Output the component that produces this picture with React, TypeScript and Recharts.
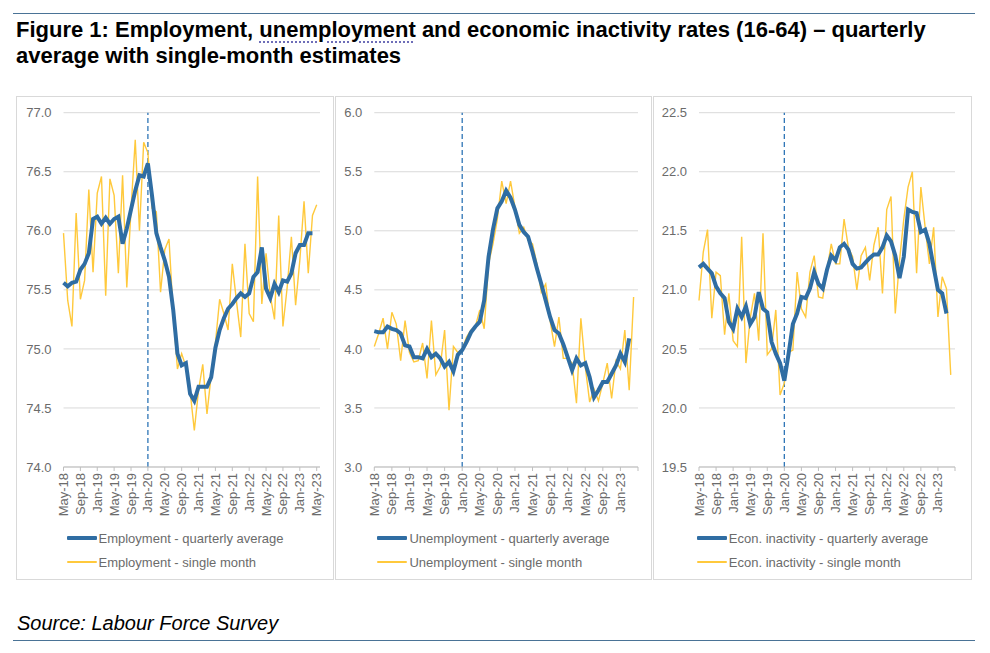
import { LineChart, Line, XAxis, YAxis, CartesianGrid, ReferenceLine } from "recharts";

const FONT = '"Liberation Sans", Arial, sans-serif';
const BLUE = "#2F6DA3";
const YELLOW = "#FFC93C";
const TEXT_GREY = "#6b6b6b";

// monthly categories, May-18 to May-23
const MONTHS = [
    "May-18", "Jun-18", "Jul-18", "Aug-18", "Sep-18", "Oct-18", "Nov-18", "Dec-18",
    "Jan-19", "Feb-19", "Mar-19", "Apr-19", "May-19", "Jun-19", "Jul-19", "Aug-19", "Sep-19", "Oct-19", "Nov-19", "Dec-19",
    "Jan-20", "Feb-20", "Mar-20", "Apr-20", "May-20", "Jun-20", "Jul-20", "Aug-20", "Sep-20", "Oct-20", "Nov-20", "Dec-20",
    "Jan-21", "Feb-21", "Mar-21", "Apr-21", "May-21", "Jun-21", "Jul-21", "Aug-21", "Sep-21", "Oct-21", "Nov-21", "Dec-21",
    "Jan-22", "Feb-22", "Mar-22", "Apr-22", "May-22", "Jun-22", "Jul-22", "Aug-22", "Sep-22", "Oct-22", "Nov-22", "Dec-22",
    "Jan-23", "Feb-23", "Mar-23", "Apr-23", "May-23",
];

const EMP_QUARTERLY = [
    75.56, 75.53, 75.56, 75.57, 75.67, 75.72, 75.81, 76.10, 76.12, 76.06,
    76.11, 76.06, 76.10, 76.12, 75.89, 76.02, 76.18, 76.34, 76.47, 76.46,
    76.57, 76.29, 75.98, 75.86, 75.75, 75.61, 75.33, 74.96, 74.86, 74.88,
    74.62, 74.56, 74.68, 74.68, 74.68, 74.76, 75.01, 75.16, 75.26, 75.34,
    75.38, 75.43, 75.47, 75.44, 75.47, 75.61, 75.65, 75.86, 75.51, 75.43,
    75.55, 75.48, 75.58, 75.57, 75.64, 75.81, 75.88, 75.88, 75.98, 75.98,
];
const EMP_SINGLE = [
    75.98, 75.41, 75.19, 76.15, 75.42, 75.58, 76.35, 75.65, 76.32, 76.46,
    75.45, 76.44, 76.30, 75.64, 76.47, 75.52, 76.18, 76.77, 76.00, 76.75,
    76.66, 76.19, 76.16, 75.48, 75.84, 75.93, 75.30, 74.83, 74.96, 74.85,
    74.64, 74.31, 74.65, 74.87, 74.45, 74.78, 75.05, 75.42, 75.30, 75.16,
    75.72, 75.40, 75.10, 75.89, 75.30, 75.23, 76.46, 75.38, 75.81, 75.45,
    75.25, 76.13, 75.19, 75.52, 75.95, 75.37, 75.75, 76.25, 75.64, 76.13,
    76.22,
];

const UNEMP_QUARTERLY = [
    4.15, 4.14, 4.14, 4.19, 4.17, 4.16, 4.13, 4.03, 4.02, 3.93,
    3.93, 3.92, 4.00, 3.93, 3.96, 3.92, 3.85, 3.89, 3.81, 3.95,
    3.99, 4.06, 4.14, 4.19, 4.23, 4.41, 4.78, 5.01, 5.19, 5.25,
    5.34, 5.28, 5.18, 5.05, 4.99, 4.95, 4.82, 4.68, 4.55, 4.41,
    4.27, 4.16, 4.13, 4.04, 3.93, 3.82, 3.92, 3.86, 3.88, 3.76,
    3.59, 3.65, 3.72, 3.72, 3.79, 3.86, 3.96, 3.89, 4.09,
];
const UNEMP_SINGLE = [
    4.02, 4.13, 4.26, 4.00, 4.31, 4.21, 3.90, 4.24, 3.97, 3.89,
    3.90, 4.05, 3.75, 4.24, 3.78, 3.85, 4.16, 3.48, 4.02, 3.97,
    4.00, 4.10, 4.16, 4.19, 4.33, 4.17, 4.72, 4.89, 5.10, 5.42,
    5.23, 5.42, 5.20, 4.98, 5.03, 4.92, 4.89, 4.72, 4.48, 4.55,
    4.24, 4.02, 4.27, 3.92, 3.92, 3.88, 3.54, 4.26, 3.85, 3.55,
    3.66, 3.56, 3.71, 3.88, 3.58, 3.90, 3.83, 4.16, 3.65, 4.44,
];

const INACT_QUARTERLY = [
    21.19, 21.22, 21.18, 21.14, 21.03, 20.97, 20.93, 20.73, 20.67, 20.84,
    20.77, 20.86, 20.71, 20.77, 20.98, 20.84, 20.81, 20.56, 20.46, 20.38,
    20.23, 20.46, 20.71, 20.80, 20.94, 20.93, 21.01, 21.15, 21.05, 21.01,
    21.17, 21.29, 21.25, 21.36, 21.39, 21.34, 21.22, 21.18, 21.19, 21.23,
    21.27, 21.30, 21.30, 21.36, 21.46, 21.41, 21.29, 21.10, 21.28, 21.68,
    21.66, 21.65, 21.49, 21.51, 21.39, 21.19, 21.00, 20.97, 20.80,
];
const INACT_SINGLE = [
    20.91, 21.32, 21.51, 20.76, 21.15, 21.12, 20.62, 20.97, 20.57, 20.52,
    21.45, 20.38, 20.76, 20.97, 20.57, 21.48, 20.45, 20.50, 20.83, 20.11,
    20.21, 20.47, 20.49, 21.15, 20.84, 20.77, 21.15, 21.29, 20.94, 20.93,
    21.17, 21.39, 21.22, 21.22, 21.60, 21.36, 21.28, 21.00, 21.29, 21.36,
    21.08, 21.38, 21.53, 20.97, 21.68, 21.79, 20.80, 21.25, 21.60, 21.87,
    22.00, 21.14, 21.87, 21.53, 21.22, 21.53, 20.77, 21.11, 21.01, 20.28,
];

const EMP_TICKS = [74.0, 74.5, 75.0, 75.5, 76.0, 76.5, 77.0];
const UNEMP_TICKS = [3.0, 3.5, 4.0, 4.5, 5.0, 5.5, 6.0];
const INACT_TICKS = [19.5, 20.0, 20.5, 21.0, 21.5, 22.0, 22.5];

const buildRows = (quarterly: number[], single: number[]) =>
    MONTHS.map((month, i) => ({
        month,
        quarterly: i < quarterly.length ? quarterly[i] : null,
        single: i < single.length ? single[i] : null,
    }));

// rotated month label under the axis
const MonthTick = (props: any) => {
    const { x, y, payload, hidden } = props;
    if (hidden && hidden.includes(payload.value)) return null;
    return (
        <text
            x={x}
            y={y}
            transform={`rotate(-90 ${x} ${y})`}
            textAnchor="end"
            dominantBaseline="central"
            fontSize={13}
            fontFamily={FONT}
            fill={TEXT_GREY}
        >
            {payload.value}
        </text>
    );
};

const LegendRow = ({ color, thickness, label }: { color: string; thickness: number; label: string }) => (
    <div style={{ display: "flex", alignItems: "center", height: 24 }}>
        <div style={{ width: 30, height: thickness, background: color, marginRight: 2, borderRadius: 1 }} />
        <span style={{ fontSize: 13, color: TEXT_GREY, fontFamily: FONT }}>{label}</span>
    </div>
);

interface PanelProps {
    left: number
    width: number
    yAxisWidth: number
    marginRight: number
    padRight: number
    rows: any[]
    domain: [number, number]
    ticks: number[]
    hidden: string[]
    name: string
}

const Panel = ({ left, width, yAxisWidth, marginRight, padRight, rows, domain, ticks, hidden, name }: PanelProps) => (
    <div
        style={{
            position: "absolute",
            left,
            top: 96,
            width,
            height: 484,
            border: "1px solid #D9D9D9",
            boxSizing: "border-box",
            background: "#fff",
        }}
    >
        <LineChart
            width={width - 2}
            height={430}
            data={rows}
            margin={{ top: 15.7, right: marginRight, left: 0, bottom: 0 }}
        >
            <CartesianGrid vertical={false} stroke="#D9D9D9" />
            <XAxis
                dataKey="month"
                interval={3}
                height={60}
                tickSize={4}
                tickMargin={2}
                padding={{ left: 0, right: padRight }}
                axisLine={{ stroke: "#BFBFBF" }}
                tickLine={{ stroke: "#BFBFBF" }}
                tick={<MonthTick hidden={hidden} />}
            />
            <YAxis
                type="number"
                domain={domain}
                ticks={ticks}
                width={yAxisWidth}
                axisLine={false}
                tickLine={false}
                tickSize={8}
                tickMargin={4}
                tick={{ fontSize: 13, fill: TEXT_GREY, fontFamily: FONT }}
                tickFormatter={(v: number) => v.toFixed(1)}
            />
            <ReferenceLine x="Jan-20" stroke="#2E75B6" strokeWidth={1.3} strokeDasharray="5 3" />
            <Line
                type="linear"
                dataKey="single"
                stroke={YELLOW}
                strokeWidth={1.4}
                dot={false}
                isAnimationActive={false}
            />
            <Line
                type="linear"
                dataKey="quarterly"
                stroke={BLUE}
                strokeWidth={4}
                dot={false}
                isAnimationActive={false}
            />
        </LineChart>

        {/* legend */}
        <div style={{ position: "absolute", top: 429, left: 0, right: 0, display: "flex", justifyContent: "center" }}>
            <div>
                <LegendRow color={BLUE} thickness={4} label={`${name} - quarterly average`} />
                <LegendRow color={YELLOW} thickness={1.5} label={`${name} - single month`} />
            </div>
        </div>
    </div>
);

export default function App() {
    return (
        <div style={{ position: "absolute", left: 0, top: 0, width: 990, height: 653, background: "#fff", fontFamily: FONT }}>
            <div style={{ position: "absolute", left: 13, top: 13, width: 962, height: 1, background: "#4A7396" }} />

            <div
                style={{
                    position: "absolute",
                    left: 16,
                    top: 17,
                    fontSize: 22,
                    lineHeight: "26px",
                    fontWeight: "bold",
                    color: "#000",
                    whiteSpace: "nowrap",
                }}
            >
                Figure 1: Employment,{" "}
                <span style={{ textDecoration: "underline dotted #6E6EB8", textUnderlineOffset: 4, textDecorationThickness: 2 }}>
                    unemployment
                </span>{" "}
                and economic inactivity rates (16-64) – quarterly
                <br />
                average with single-month estimates
            </div>

            <Panel
                left={16}
                width={318}
                yAxisWidth={46.5}
                marginRight={13}
                padRight={3.3}
                rows={buildRows(EMP_QUARTERLY, EMP_SINGLE)}
                domain={[74, 77]}
                ticks={EMP_TICKS}
                hidden={[]}
                name="Employment"
            />
            <Panel
                left={335}
                width={317}
                yAxisWidth={38.3}
                marginRight={13}
                padRight={0}
                rows={buildRows(UNEMP_QUARTERLY, UNEMP_SINGLE)}
                domain={[3, 6]}
                ticks={UNEMP_TICKS}
                hidden={["May-23"]}
                name="Unemployment"
            />
            <Panel
                left={653}
                width={319}
                yAxisWidth={45}
                marginRight={16}
                padRight={0}
                rows={buildRows(INACT_QUARTERLY, INACT_SINGLE)}
                domain={[19.5, 22.5]}
                ticks={INACT_TICKS}
                hidden={["May-23"]}
                name="Econ. inactivity"
            />

            <div style={{ position: "absolute", left: 17, top: 612, fontSize: 20, fontStyle: "italic", color: "#000" }}>
                Source: Labour Force Survey
            </div>
            <div style={{ position: "absolute", left: 13, top: 640, width: 962, height: 1, background: "#4A7396" }} />
        </div>
    );
}
